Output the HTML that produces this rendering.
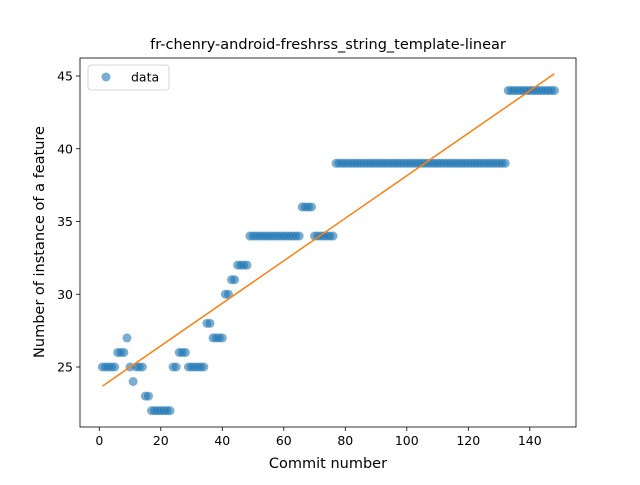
<!DOCTYPE html>
<html><head><meta charset="utf-8"><style>
body{margin:0;background:#fff;font-family:"Liberation Sans","DejaVu Sans",sans-serif}
svg text{font-family:"DejaVu Sans","Liberation Sans",sans-serif}
</style></head><body>
<svg id="c" width="640" height="480" xmlns="http://www.w3.org/2000/svg"></svg>
<script>
const values=[25,25,25,25,25,26,26,26,27,25,24,25,25,25,23,23,22,22,22,22,22,22,22,25,25,26,26,26,25,25,25,25,25,25,28,28,27,27,27,27,30,30,31,31,32,32,32,32,
34,34,34,34,34,34,34,34,34,34,34,34,34,34,34,34,34,36,36,36,36,34,34,34,34,34,34,34,
39,39,39,39,39,39,39,39,39,39,39,39,39,39,39,39,39,39,39,39,39,39,39,39,39,39,39,39,39,39,39,39,39,39,39,39,39,39,39,39,39,39,39,39,39,39,39,39,39,39,39,39,39,39,39,39,
44,44,44,44,44,44,44,44,44,44,44,44,44,44,44,44];
const xTicks=[0,20,40,60,80,100,120,140];
const yTicks=[25,30,35,40,45];
const L=80,R=576,T=58,B=427;
const X=v=>99.3+v*3.075;
const Y=v=>367-(v-25)*14.55;
const svg=document.getElementById('c');
const NS='http://www.w3.org/2000/svg';
function mk(t,a,txt){const e=document.createElementNS(NS,t);for(const k in a)e.setAttribute(k,a[k]);if(txt!==undefined)e.textContent=txt;svg.appendChild(e);return e;}
let e=mk('text',{x:328,y:49,'font-size':14.5,'text-anchor':'middle'},'fr-chenry-android-freshrss_string_template-linear');


xTicks.forEach(v=>{
 let t=mk('line',{x1:X(v),x2:X(v),y1:B,y2:B+4,stroke:'#000','stroke-width':0.8});
 
 
 let l=mk('text',{x:X(v),y:B+18,'font-size':12.5,'text-anchor':'middle'},v);
 
 
});
yTicks.forEach(v=>{
 let t=mk('line',{x1:L-4,x2:L,y1:Y(v),y2:Y(v),stroke:'#000','stroke-width':0.8});
 
 
 let l=mk('text',{x:L-7,y:Y(v)+4.5,'font-size':12.5,'text-anchor':'end'},v);
 
 
});
e=mk('text',{x:328,y:468,'font-size':14.5,'text-anchor':'middle'},'Commit number');


e=mk('text',{x:0,y:0,'font-size':14.5,'text-anchor':'middle',transform:'translate(44,242) rotate(-90)'},'Number of instance of a feature');


values.forEach((v,i)=>{
 let c=mk('circle',{cx:X(i+1),cy:Y(v),r:4.5,fill:'#1f77b4','fill-opacity':0.6});
 
 
});
const n=values.length;let sx=0,sy=0,sxx=0,sxy=0;
values.forEach((v,i)=>{const x=i+1;sx+=x;sy+=v;sxx+=x*x;sxy+=x*v;});
const m=(n*sxy-sx*sy)/(n*sxx-sx*sx),b0=(sy-m*sx)/n;
e=mk('line',{x1:X(1),y1:Y(b0+m),x2:X(n),y2:Y(b0+m*n),stroke:'#ff7f0e','stroke-width':1.5});


e=mk('rect',{x:L,y:T,width:R-L,height:B-T,fill:'none',stroke:'#000','stroke-width':0.8});


e=mk('rect',{x:88,y:65,width:81,height:25,rx:3,fill:'#fff','fill-opacity':0.8,stroke:'#ccc','stroke-width':0.8});


e=mk('circle',{cx:106,cy:77,r:4.5,fill:'#1f77b4','fill-opacity':0.6});


e=mk('text',{x:131,y:81.5,'font-size':12.5},'data');


</script>
</body></html>
